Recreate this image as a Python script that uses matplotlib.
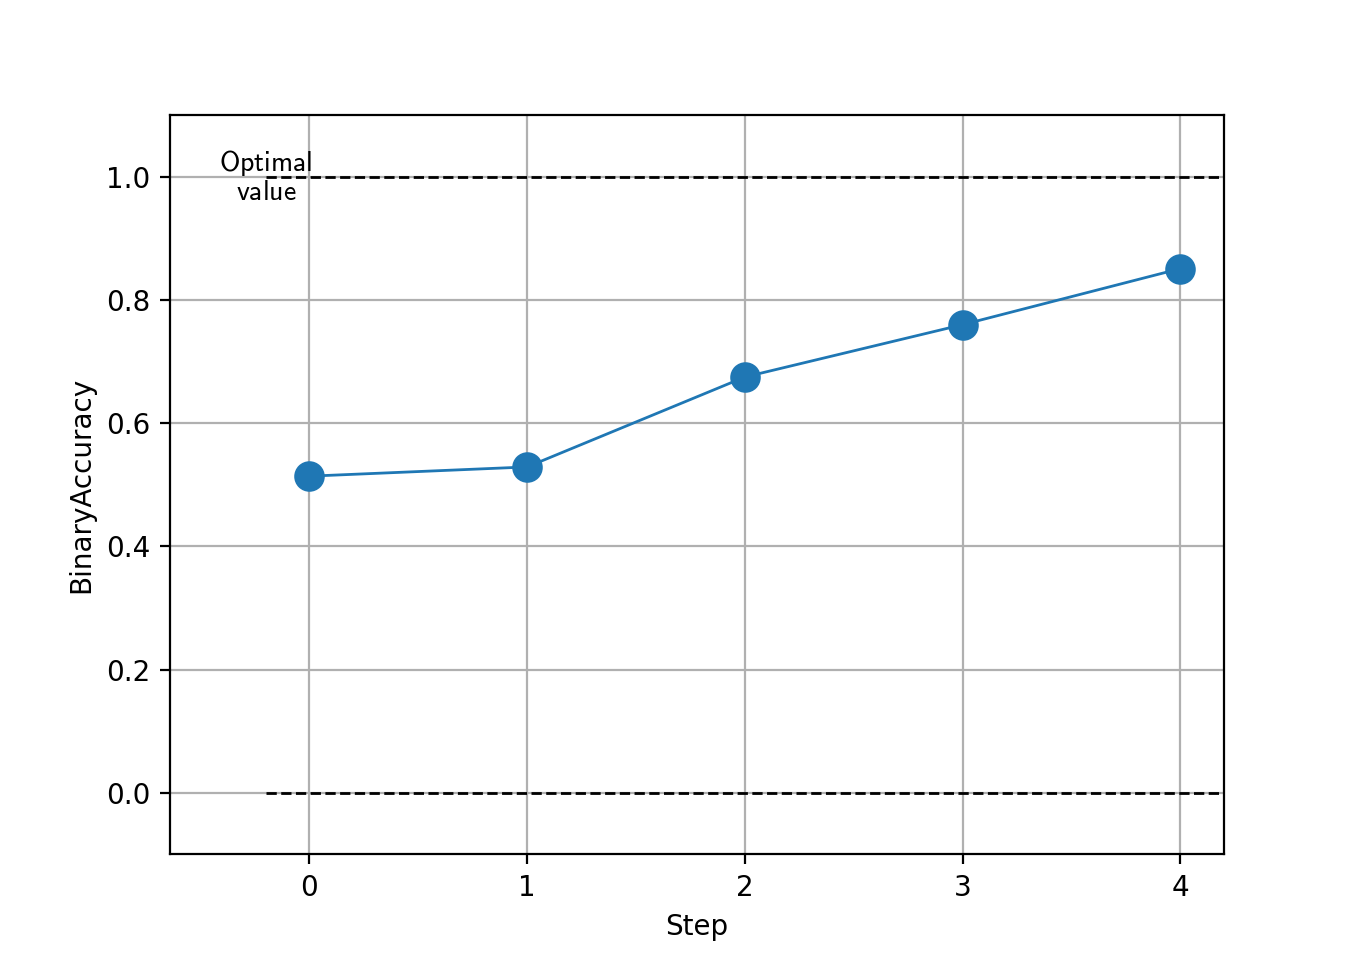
import matplotlib
matplotlib.use("Agg")
import matplotlib.pyplot as plt

steps = [0, 1, 2, 3, 4]
accuracy = [0.514, 0.529, 0.675, 0.760, 0.851]
optimal_value = 1.0
baseline_value = 0.0

plt.rcParams['mathtext.fontset'] = 'cm'

fig, ax = plt.subplots(figsize=(6.8, 4.8), dpi=200)
ax.plot(steps, accuracy, '-o', color='#1f77b4', lw=1, markersize=10)
ax.hlines([optimal_value, baseline_value], -0.2, 4.2, colors='black', linestyles='--', lw=1)
ax.text(-0.2, optimal_value, r'$\mathsf{Optimal}$' + '\n' + r'$\mathsf{value}$',
        ha='center', va='center', fontsize=10, linespacing=1.0)
ax.set_xlim(-0.64, 4.2)
ax.set_ylim(-0.1, 1.1)
ax.set_xticks(steps)
ax.grid(True)
ax.set_axisbelow(True)
ax.set_xlabel('Step')
ax.set_ylabel('BinaryAccuracy')
fig.savefig('out.png', dpi=200)
